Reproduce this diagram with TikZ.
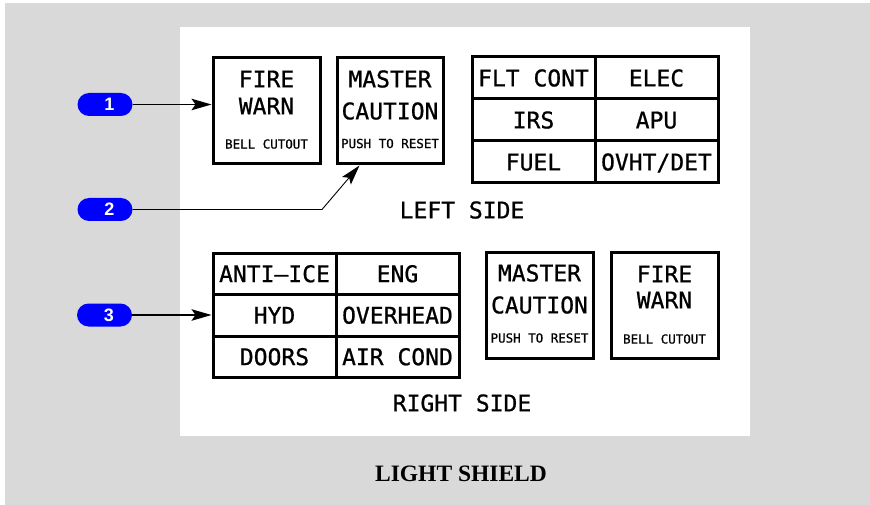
\documentclass[tikz,border=0pt]{standalone}
\usepackage{fontspec}
\newfontfamily\panelfont[FakeBold=0.8]{DejaVu Sans Mono}
\newfontfamily\calloutfont{Liberation Sans}
\newfontfamily\titlefont{Liberation Serif}
\usetikzlibrary{arrows.meta, calc}
\definecolor{shieldgray}{RGB}{217,217,217}
\definecolor{calloutblue}{RGB}{0,0,255}
\tikzstyle{lamp} = [rectangle, draw=black, line width=3pt, minimum width=107pt, minimum height=106pt, inner sep=0pt]
\tikzstyle{cell} = [rectangle, draw=black, line width=3pt, minimum width=123pt, minimum height=42pt, inner sep=0pt, text height=16.8pt, text depth=0pt, font=\panelfont\fontsize{23}{27}\selectfont]
\tikzstyle{bigtxt} = [inner sep=0pt, text height=16.8pt, text depth=0pt, font=\panelfont\fontsize{23}{27}\selectfont]
\tikzstyle{smalltxt} = [inner sep=0pt, text height=9.1pt, text depth=0pt, font=\panelfont\fontsize{12.5}{15}\selectfont]
\tikzstyle{callout} = [rectangle, rounded corners=11.5pt, fill=calloutblue, minimum width=55pt, minimum height=23pt, inner sep=0pt, text=white, font=\calloutfont\bfseries\fontsize{18}{20}\selectfont]
\tikzstyle{arrow} = [line width=1.3pt, -{Stealth[length=20pt, width=11.5pt, inset=4pt]}]

\begin{document}
\begin{tikzpicture}[x=1pt, y=-1pt]
        \useasboundingbox (0,0) rectangle (870,505);
        % Shield and panel
        \fill [shieldgray] (5,3) rectangle (870,505);
        \fill [white] (180,27) rectangle (750,436);

        % Left side lamps
        \node (fw1) [lamp] at (266.5,111) {};
        \node (fw1a) [bigtxt] at ([yshift=32pt]fw1.center) {FIRE};
        \node (fw1b) [bigtxt] at ([yshift=5pt]fw1.center) {WARN};
        \node (fw1c) [smalltxt] at ([yshift=-33pt]fw1.center) {BELL CUTOUT};
        \node (mc1) [lamp, minimum width=106pt] at (390,111) {};
        \node (mc1a) [bigtxt] at ([yshift=32pt]mc1.center) {MASTER};
        \node (mc1b) [bigtxt] at (mc1.center) {CAUTION};
        \node (mc1c) [smalltxt] at ([yshift=-32.5pt]mc1.center) {PUSH TO RESET};

        % Left side annunciator
        \node (fltcont) [cell] at (533.5,78) {FLT CONT};
        \node (elec) [cell] at (656.5,78) {ELEC};
        \node (irs) [cell] at (533.5,120) {IRS};
        \node (apu) [cell] at (656.5,120) {APU};
        \node (fuel) [cell] at (533.5,162) {FUEL};
        \node (ovht) [cell] at (656.5,162) {OVHT/DET};
        \node (leftside) [bigtxt] at (462,210) {LEFT SIDE};

        % Right side annunciator
        \node (antiice) [cell, minimum height=41.5pt] at (274.5,273.75) {ANTI–ICE};
        \node (eng) [cell, minimum height=41.5pt] at (397.5,273.75) {ENG};
        \node (hyd) [cell, minimum height=41.5pt] at (274.5,315.25) {HYD};
        \node (overhead) [cell, minimum height=41.5pt] at (397.5,315.25) {OVERHEAD};
        \node (doors) [cell, minimum height=41.5pt] at (274.5,356.75) {DOORS};
        \node (aircond) [cell, minimum height=41.5pt] at (397.5,356.75) {AIR COND};
        \node (rightside) [bigtxt] at (462,403) {RIGHT SIDE};

        % Right side lamps
        \node (mc2) [lamp] at (539.5,305) {};
        \node (mc2a) [bigtxt] at ([yshift=32pt]mc2.center) {MASTER};
        \node (mc2b) [bigtxt] at (mc2.center) {CAUTION};
        \node (mc2c) [smalltxt] at ([yshift=-33pt]mc2.center) {PUSH TO RESET};
        \node (fw2) [lamp] at (664.5,305) {};
        \node (fw2a) [bigtxt] at ([yshift=31pt]fw2.center) {FIRE};
        \node (fw2b) [bigtxt] at ([yshift=5pt]fw2.center) {WARN};
        \node (fw2c) [smalltxt] at ([yshift=-34pt]fw2.center) {BELL CUTOUT};

        % Callouts
        \node (call1) [callout] at (105,104.5) {\hspace{9pt}1};
        \node (call2) [callout] at (105,209.5) {\hspace{9pt}2};
        \node (call3) [callout] at (104.5,315) {\hspace{9pt}3};
        \coordinate (bend2) at (322,209.5);
        \coordinate (tip2) at ($(mc1.south west)!0.22!(mc1.south east)$);

        % Arrows
        \draw [arrow] (call1.east) -- (call1.east -| fw1.west);
        \draw [arrow, line width=0.9pt] (call2.east) -- (bend2) -- (tip2);
        \draw [arrow] (call3.east) -- (call3.east -| hyd.west);

        \node (title) at (461,474) [font=\titlefont\bfseries\fontsize{23.5}{28}\selectfont] {LIGHT SHIELD};
    \end{tikzpicture}
\end{document}
